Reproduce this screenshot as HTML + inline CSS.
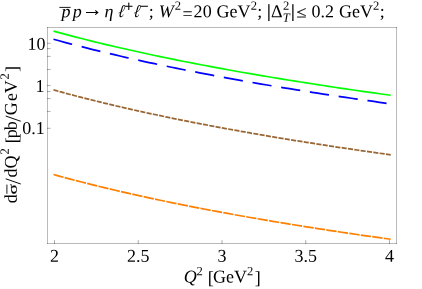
<!DOCTYPE html>
<html><head><meta charset="utf-8"><title>plot</title>
<style>html,body{margin:0;padding:0;background:#fff;}body{width:422px;height:289px;overflow:hidden;position:relative;font-family:"Liberation Serif",serif;}</style>
</head><body>
<svg width="422" height="289" viewBox="0 0 422 289" style="position:absolute;left:0;top:0;font-family:'Liberation Serif',serif;will-change:transform;" text-rendering="geometricPrecision" fill="#000">
<path d="M53.50,31.13 L59.12,32.66 L64.74,34.17 L70.36,35.65 L75.98,37.11 L81.60,38.55 L87.22,39.96 L92.84,41.36 L98.46,42.73 L104.08,44.08 L109.70,45.42 L115.32,46.73 L120.94,48.03 L126.56,49.30 L132.18,50.56 L137.80,51.81 L143.42,53.03 L149.04,54.24 L154.66,55.44 L160.28,56.62 L165.90,57.78 L171.52,58.93 L177.14,60.07 L182.76,61.19 L188.38,62.30 L194.00,63.39 L199.62,64.47 L205.24,65.54 L210.86,66.60 L216.48,67.65 L222.10,68.68 L227.72,69.70 L233.34,70.71 L238.96,71.71 L244.58,72.70 L250.20,73.68 L255.82,74.65 L261.44,75.60 L267.06,76.55 L272.68,77.49 L278.30,78.42 L283.92,79.34 L289.54,80.25 L295.16,81.15 L300.78,82.04 L306.40,82.93 L312.02,83.80 L317.64,84.67 L323.26,85.53 L328.88,86.38 L334.50,87.23 L340.12,88.06 L345.74,88.89 L351.36,89.71 L356.98,90.53 L362.60,91.33 L368.22,92.13 L373.84,92.92 L379.46,93.71 L385.08,94.49 L390.70,95.26" fill="none" stroke="#00ff00" stroke-width="1.65"/>
<path d="M53.50,39.22 L59.12,40.77 L64.74,42.29 L70.36,43.78 L75.98,45.25 L81.60,46.70 L87.22,48.13 L92.84,49.53 L98.46,50.92 L104.08,52.28 L109.70,53.62 L115.32,54.95 L120.94,56.25 L126.56,57.54 L132.18,58.81 L137.80,60.06 L143.42,61.30 L149.04,62.52 L154.66,63.72 L160.28,64.91 L165.90,66.08 L171.52,67.24 L177.14,68.38 L182.76,69.51 L188.38,70.63 L194.00,71.73 L199.62,72.82 L205.24,73.90 L210.86,74.97 L216.48,76.02 L222.10,77.06 L227.72,78.09 L233.34,79.11 L238.96,80.12 L244.58,81.11 L250.20,82.10 L255.82,83.07 L261.44,84.04 L267.06,84.99 L272.68,85.94 L278.30,86.88 L283.92,87.80 L289.54,88.72 L295.16,89.63 L300.78,90.53 L306.40,91.42 L312.02,92.30 L317.64,93.17 L323.26,94.04 L328.88,94.90 L334.50,95.75 L340.12,96.59 L345.74,97.43 L351.36,98.25 L356.98,99.07 L362.60,99.89 L368.22,100.69 L373.84,101.49 L379.46,102.28 L385.08,103.07 L390.70,103.85" fill="none" stroke="#0000ff" stroke-width="1.75" stroke-dasharray="19.3 9.8"/>
<path d="M53.50,89.92 L59.12,91.47 L64.74,93.00 L70.36,94.50 L75.98,95.98 L81.60,97.43 L87.22,98.86 L92.84,100.27 L98.46,101.66 L104.08,103.03 L109.70,104.38 L115.32,105.70 L120.94,107.02 L126.56,108.31 L132.18,109.58 L137.80,110.84 L143.42,112.08 L149.04,113.30 L154.66,114.51 L160.28,115.70 L165.90,116.88 L171.52,118.04 L177.14,119.19 L182.76,120.33 L188.38,121.45 L194.00,122.55 L199.62,123.65 L205.24,124.73 L210.86,125.80 L216.48,126.86 L222.10,127.90 L227.72,128.94 L233.34,129.96 L238.96,130.97 L244.58,131.97 L250.20,132.96 L255.82,133.94 L261.44,134.91 L267.06,135.86 L272.68,136.81 L278.30,137.75 L283.92,138.68 L289.54,139.60 L295.16,140.52 L300.78,141.42 L306.40,142.31 L312.02,143.20 L317.64,144.08 L323.26,144.95 L328.88,145.81 L334.50,146.66 L340.12,147.51 L345.74,148.34 L351.36,149.17 L356.98,150.00 L362.60,150.81 L368.22,151.62 L373.84,152.42 L379.46,153.22 L385.08,154.01 L390.70,154.79" fill="none" stroke="#996633" stroke-width="1.75" stroke-dasharray="5.1 1.293"/>
<path d="M53.50,174.52 L59.12,176.07 L64.74,177.59 L70.36,179.09 L75.98,180.57 L81.60,182.02 L87.22,183.44 L92.84,184.85 L98.46,186.24 L104.08,187.60 L109.70,188.95 L115.32,190.28 L120.94,191.58 L126.56,192.87 L132.18,194.15 L137.80,195.40 L143.42,196.64 L149.04,197.86 L154.66,199.07 L160.28,200.26 L165.90,201.43 L171.52,202.59 L177.14,203.74 L182.76,204.87 L188.38,205.99 L194.00,207.09 L199.62,208.19 L205.24,209.27 L210.86,210.33 L216.48,211.39 L222.10,212.43 L227.72,213.46 L233.34,214.48 L238.96,215.49 L244.58,216.49 L250.20,217.48 L255.82,218.46 L261.44,219.42 L267.06,220.38 L272.68,221.33 L278.30,222.26 L283.92,223.19 L289.54,224.11 L295.16,225.02 L300.78,225.92 L306.40,226.82 L312.02,227.70 L317.64,228.58 L323.26,229.44 L328.88,230.30 L334.50,231.15 L340.12,232.00 L345.74,232.83 L351.36,233.66 L356.98,234.48 L362.60,235.30 L368.22,236.11 L373.84,236.91 L379.46,237.70 L385.08,238.49 L390.70,239.27" fill="none" stroke="#ff8000" stroke-width="1.72" stroke-dasharray="10.36 1.247"/>
<g stroke="#000" stroke-opacity="0.27" stroke-width="1" fill="none">
<line x1="47.0" y1="27.5" x2="397.0" y2="27.5"/><line x1="47.0" y1="243.5" x2="397.0" y2="243.5"/><line x1="47.5" y1="27.0" x2="47.5" y2="244.0"/><line x1="396.5" y1="27.0" x2="396.5" y2="244.0"/>
<line x1="54.50" y1="244.0" x2="54.50" y2="240.1" stroke-width="0.55" stroke-opacity="0.6"/>
<line x1="138.25" y1="244.0" x2="138.25" y2="240.1" stroke-width="0.55" stroke-opacity="0.6"/>
<line x1="222.00" y1="244.0" x2="222.00" y2="240.1" stroke-width="0.55" stroke-opacity="0.6"/>
<line x1="305.75" y1="244.0" x2="305.75" y2="240.1" stroke-width="0.55" stroke-opacity="0.6"/>
<line x1="389.50" y1="244.0" x2="389.50" y2="240.1" stroke-width="0.55" stroke-opacity="0.6"/>
<line x1="47.0" y1="43.35" x2="50.5" y2="43.35" stroke-width="0.55" stroke-opacity="0.6"/>
<line x1="47.0" y1="48.60" x2="50.5" y2="48.60" stroke-width="0.55" stroke-opacity="0.6"/>
<line x1="47.0" y1="56.40" x2="50.5" y2="56.40" stroke-width="0.55" stroke-opacity="0.6"/>
<line x1="47.0" y1="69.50" x2="50.5" y2="69.50" stroke-width="0.55" stroke-opacity="0.6"/>
<line x1="47.0" y1="85.55" x2="50.5" y2="85.55" stroke-width="0.55" stroke-opacity="0.6"/>
<line x1="47.0" y1="91.50" x2="50.5" y2="91.50" stroke-width="0.55" stroke-opacity="0.6"/>
<line x1="47.0" y1="98.60" x2="50.5" y2="98.60" stroke-width="0.55" stroke-opacity="0.6"/>
<line x1="47.0" y1="111.40" x2="50.5" y2="111.40" stroke-width="0.55" stroke-opacity="0.6"/>
<line x1="47.0" y1="128.30" x2="50.5" y2="128.30" stroke-width="0.55" stroke-opacity="0.6"/>
</g>
<text transform="translate(50.10,261.7) rotate(0.03)" font-size="18.0">2</text>
<text transform="translate(126.96,261.7) rotate(0.03)" font-size="18.0">2.5</text>
<text transform="translate(217.42,261.7) rotate(0.03)" font-size="18.0">3</text>
<text transform="translate(294.42,261.7) rotate(0.03)" font-size="18.0">3.5</text>
<text transform="translate(384.96,261.7) rotate(0.03)" font-size="18.0">4</text>
<text transform="translate(27.45,49.80) rotate(0.03)" font-size="18.0">10</text>
<text transform="translate(35.55,91.90) rotate(0.03)" font-size="18.0">1</text>
<text transform="translate(22.30,133.90) rotate(0.03)" font-size="18.0">0.1</text>
<text transform="translate(183.77,282.50) rotate(0.03)" font-size="18.0" font-style="italic">Q</text>
<text transform="translate(196.42,275.30) rotate(0.03)" font-size="12.6">2</text>
<text transform="translate(207.66,283.80) rotate(0.03)" font-size="18.0">[</text>
<text transform="translate(213.09,282.50) rotate(0.03)" font-size="18.0">GeV</text>
<text transform="translate(247.12,275.30) rotate(0.03)" font-size="12.6">2</text>
<text transform="translate(254.65,283.80) rotate(0.03)" font-size="18.0">]</text>
<g transform="translate(16.8,210.0) rotate(-90)">
<text transform="translate(6.78,0.00) rotate(0.03)" font-size="18.0">d</text>
<text transform="translate(15.62,0.00) rotate(0.03) scale(1,0.64)" font-size="19.5" stroke="#000" stroke-width="0.25">σ</text>
<text transform="translate(25.62,3.60) rotate(0.03)" font-size="22.5">/</text>
<text transform="translate(32.53,0.00) rotate(0.03)" font-size="18.0">d</text>
<text transform="translate(41.59,0.00) rotate(0.03)" font-size="18.0">Q</text>
<text transform="translate(55.42,-8.00) rotate(0.03)" font-size="12.6">2</text>
<text transform="translate(66.66,1.30) rotate(0.03)" font-size="18.0">[</text>
<text transform="translate(71.81,0.00) rotate(0.03)" font-size="18.0">p</text>
<text transform="translate(79.84,0.00) rotate(0.03)" font-size="18.0">b</text>
<text transform="translate(88.37,3.60) rotate(0.03)" font-size="22.5">/</text>
<text transform="translate(94.79,0.00) rotate(0.03)" font-size="18.0">G</text>
<text transform="translate(108.92,0.00) rotate(0.03)" font-size="18.0">e</text>
<text transform="translate(116.85,0.00) rotate(0.03)" font-size="18.0">V</text>
<text transform="translate(130.42,-8.00) rotate(0.03)" font-size="12.6">2</text>
<text transform="translate(137.90,1.30) rotate(0.03)" font-size="18.0">]</text>
<line x1="16.20" y1="-9.90" x2="25.40" y2="-9.90" stroke="#000" stroke-width="0.9"/>
</g>
<text transform="translate(61.60,17.20) rotate(0.03)" font-size="18.0" font-style="italic">p</text>
<text transform="translate(72.70,17.20) rotate(0.03)" font-size="18.0" font-style="italic">p</text>
<text transform="translate(81.85,15.90) rotate(0.03)" font-size="21.0">→</text>
<text transform="translate(104.49,17.20) rotate(0.03)" font-size="18.0" font-style="italic">η</text>
<text transform="translate(117.71,17.20) rotate(0.03) skewX(-8) scale(0.82,1)" font-size="18.0" font-style="italic">ℓ</text>
<text transform="translate(124.56,11.30) rotate(0.03)" font-size="15.0" stroke="#000" stroke-width="0.3">+</text>
<text transform="translate(133.31,17.20) rotate(0.03) skewX(-8) scale(0.82,1)" font-size="18.0" font-style="italic">ℓ</text>
<text transform="translate(139.96,11.30) rotate(0.03)" font-size="15.0" stroke="#000" stroke-width="0.3">−</text>
<text transform="translate(148.77,17.20) rotate(0.03)" font-size="18.0">;</text>
<text transform="translate(158.68,17.20) rotate(0.03)" font-size="18.0" font-style="italic">W</text>
<text transform="translate(174.77,9.80) rotate(0.03)" font-size="12.6">2</text>
<text transform="translate(182.62,19.60) rotate(0.03)" font-size="18.0">=</text>
<text transform="translate(193.60,17.20) rotate(0.03)" font-size="18.0">2</text>
<text transform="translate(202.70,17.20) rotate(0.03)" font-size="18.0">0</text>
<text transform="translate(216.44,17.20) rotate(0.03)" font-size="18.0">GeV</text>
<text transform="translate(250.87,9.80) rotate(0.03)" font-size="12.6">2</text>
<text transform="translate(257.37,17.20) rotate(0.03)" font-size="18.0">;</text>
<text transform="translate(266.90,16.90) rotate(0.03)" font-size="18.0" stroke="#000" stroke-width="0.35">|</text>
<text transform="translate(270.91,17.20) rotate(0.03)" font-size="18.0">Δ</text>
<text transform="translate(283.12,9.80) rotate(0.03)" font-size="12.6">2</text>
<text transform="translate(282.76,21.70) rotate(0.03)" font-size="12.6" font-style="italic">T</text>
<text transform="translate(291.00,16.90) rotate(0.03)" font-size="18.0" stroke="#000" stroke-width="0.35">|</text>
<text transform="translate(296.46,17.45) rotate(0.03) scale(1,0.9)" font-size="18.0" stroke="#000" stroke-width="0.25">≤</text>
<text transform="translate(311.60,17.20) rotate(0.03)" font-size="18.0">0.2</text>
<text transform="translate(338.89,17.20) rotate(0.03)" font-size="18.0">GeV</text>
<text transform="translate(373.07,9.80) rotate(0.03)" font-size="12.6">2</text>
<text transform="translate(379.87,17.20) rotate(0.03)" font-size="18.0">;</text>
<line x1="59.4" y1="7.4" x2="70.6" y2="7.4" stroke="#000" stroke-width="0.9"/>
</svg>
</body></html>
